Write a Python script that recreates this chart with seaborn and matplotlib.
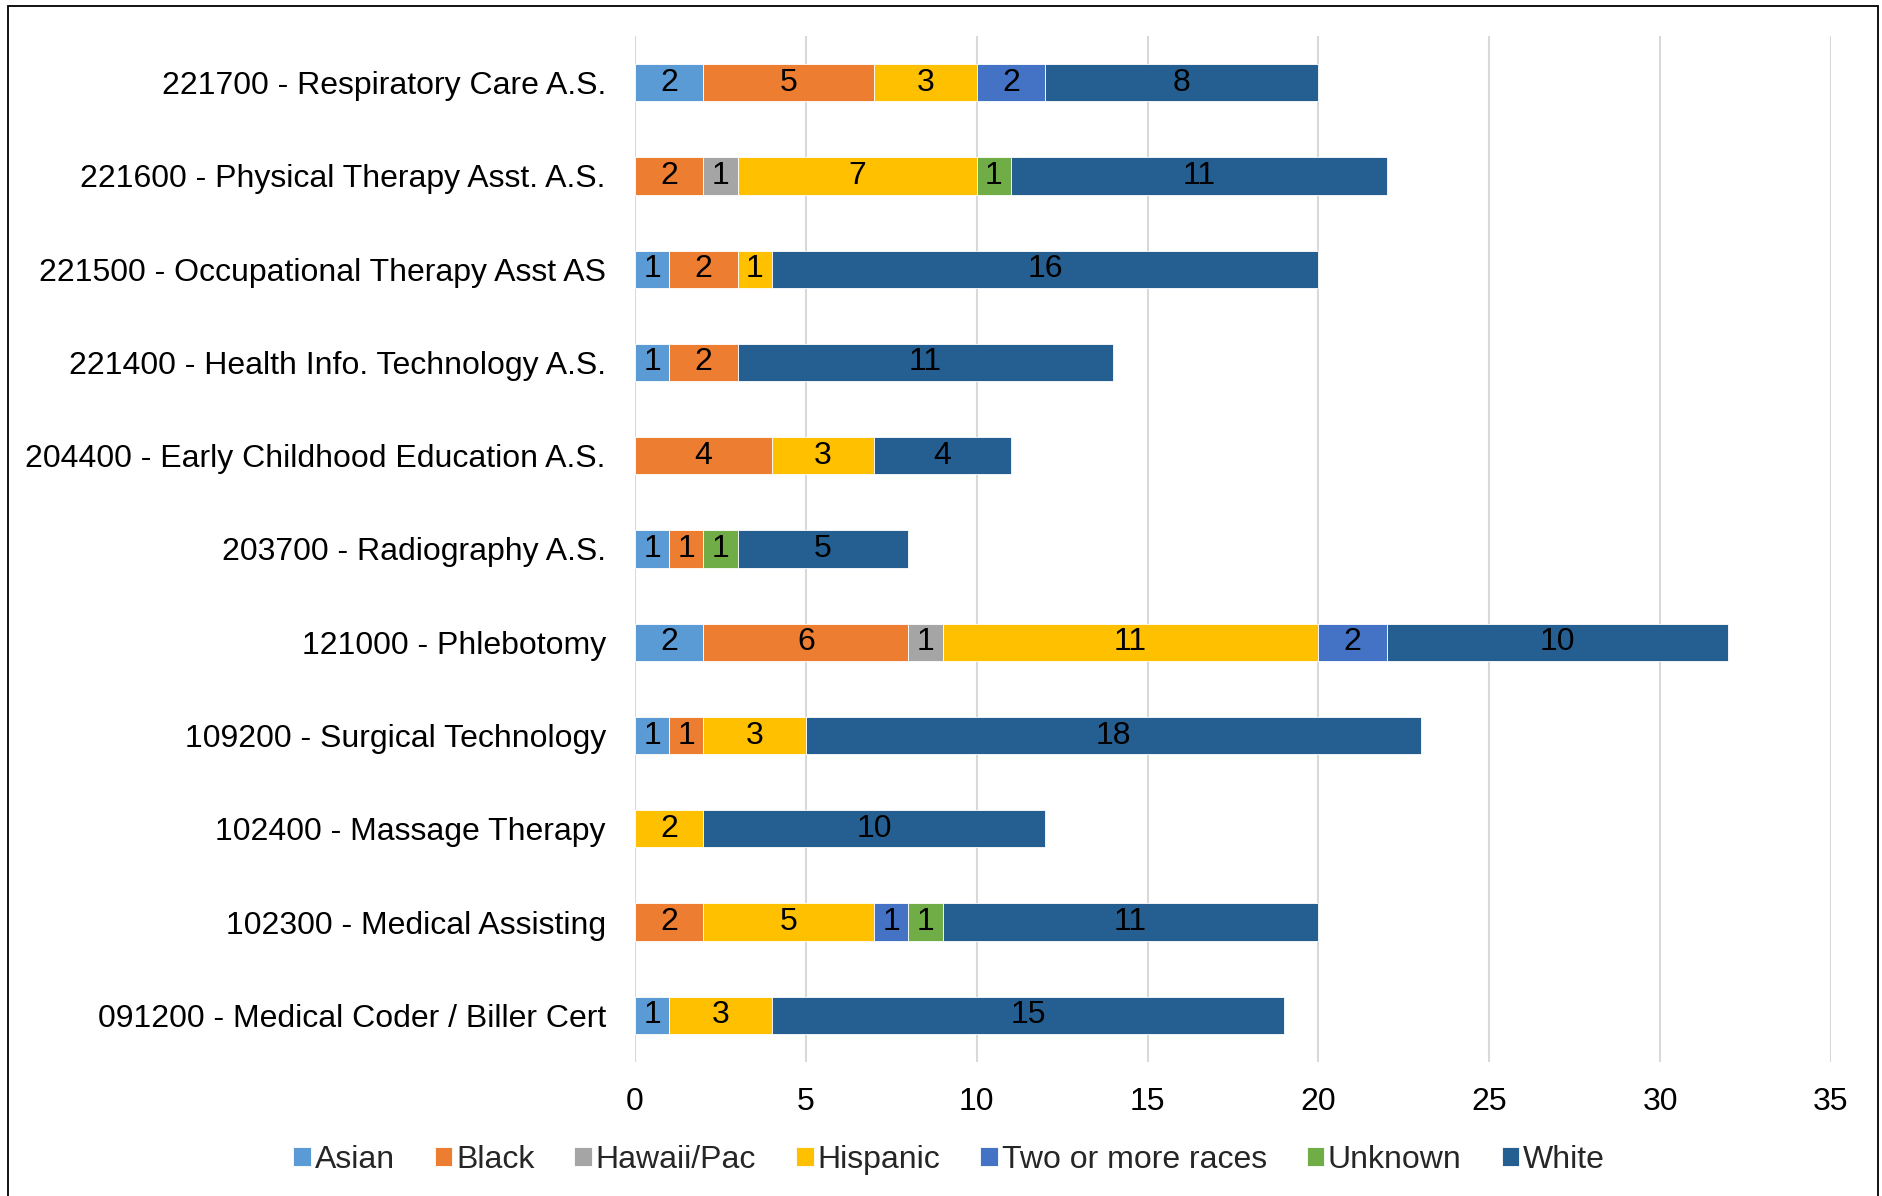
import matplotlib
matplotlib.use("Agg")
import matplotlib.pyplot as plt
from matplotlib.patches import Rectangle
import numpy as np
import pandas as pd
import seaborn as sns

programs = [
    "221700 - Respiratory Care A.S.",
    "221600 - Physical Therapy Asst. A.S.",
    "221500 - Occupational Therapy Asst AS",
    "221400 - Health Info. Technology A.S.",
    "204400 - Early Childhood Education A.S.",
    "203700 - Radiography A.S.",
    "121000 - Phlebotomy",
    "109200 - Surgical Technology",
    "102400 - Massage Therapy",
    "102300 - Medical Assisting",
    "091200 - Medical Coder / Biller Cert",
]

asian    = [2, 0, 1, 1, 0, 1, 2, 1, 0, 0, 1]
black    = [5, 2, 2, 2, 4, 1, 6, 1, 0, 2, 0]
hawaii   = [0, 1, 0, 0, 0, 0, 1, 0, 0, 0, 0]
hispanic = [3, 7, 1, 0, 3, 0, 11, 3, 2, 5, 3]
two_more = [2, 0, 0, 0, 0, 0, 2, 0, 0, 1, 0]
unknown  = [0, 1, 0, 0, 0, 1, 0, 0, 0, 1, 0]
white    = [8, 11, 16, 11, 4, 5, 10, 18, 10, 11, 15]

groups = ["Asian", "Black", "Hawaii/Pac", "Hispanic", "Two or more races", "Unknown", "White"]
values = [asian, black, hawaii, hispanic, two_more, unknown, white]
colors = ["#5B9BD5", "#ED7D31", "#A5A5A5", "#FFC000", "#4472C4", "#70AD47", "#255E91"]

x_ticks = [0, 5, 10, 15, 20, 25, 30, 35]

sns.set_style("white")
plt.rcParams["font.family"] = ["Liberation Sans", "DejaVu Sans"]
FS = 23

fig = plt.figure(figsize=(18.83, 11.96), dpi=100)
ax = fig.add_axes([635 / 1883, 1 - 1062 / 1196, (1831 - 635) / 1883, (1062 - 36) / 1196])

# stack the segments left to right, one group at a time
left = np.zeros(len(programs))
for name, vals, col in zip(groups, values, colors):
    df = pd.DataFrame({"program": programs, "count": vals})
    sns.barplot(data=df, y="program", x="count", order=programs, orient="y",
                color=col, width=0.4, left=left.copy(), saturation=1,
                edgecolor="white", linewidth=0.6, label=name, ax=ax, errorbar=None)
    cont = ax.containers[-1]
    ax.bar_label(cont, labels=[str(v) if v else "" for v in vals],
                 label_type="center", fontsize=FS, color="black")
    left += np.array(vals)

ax.set_xlim(0, 35)
ax.set_ylim(len(programs) - 0.5, -0.5)
ax.set_xticks(x_ticks)
ax.set_xticklabels([str(t) for t in x_ticks])
ax.set_xlabel("")
ax.set_ylabel("")
ax.xaxis.grid(True, color="#D9D9D9", linewidth=1.5)
ax.yaxis.grid(False)
ax.set_axisbelow(True)
for s in ax.spines.values():
    s.set_visible(False)
ax.tick_params(axis="y", length=0, pad=21, labelsize=FS, labelcolor="black")
ax.tick_params(axis="x", length=0, pad=18, labelsize=FS, labelcolor="black")

handles, labels = ax.get_legend_handles_labels()
if ax.get_legend() is not None:
    ax.get_legend().remove()
fig.legend(handles, labels, loc="center", bbox_to_anchor=(0.504, 1 - 1160 / 1196),
           ncol=7, frameon=False, fontsize=FS, handlelength=0.55, handleheight=0.55,
           handletextpad=0.12, columnspacing=1.25)

# outer frame around the whole chart
fig.patches.append(Rectangle((8 / 1883, -0.05), (1878 - 8) / 1883, 1.05 - 6 / 1196,
                             transform=fig.transFigure, fill=False,
                             edgecolor="black", linewidth=1.3))

fig.savefig("out.png", dpi=100)
